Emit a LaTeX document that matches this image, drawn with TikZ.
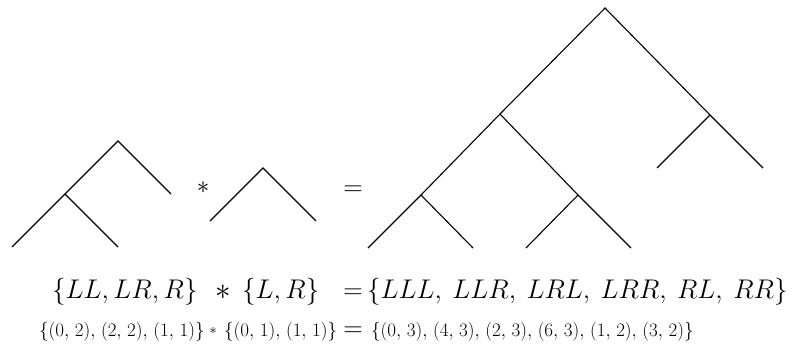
\RequirePackage{fix-cm}
\documentclass[tikz,border=0pt]{standalone}
\newcommand\cc{,\kern2.4pt}
\begin{document}
\begin{tikzpicture}[x=1pt,y=-1pt,
  edge/.style={line width=1.1pt},
  big/.style={inner sep=0pt, font=\fontsize{27}{32}\selectfont},
  bigast/.style={inner sep=0pt, font=\fontsize{31}{36}\selectfont},
  mid/.style={inner sep=0pt, font=\fontsize{25}{30}\selectfont},
  small/.style={inner sep=0pt, font=\fontsize{19}{23}\selectfont},
  tiny/.style={inner sep=0pt, font=\fontsize{15}{18}\selectfont}]
\useasboundingbox (0,0) rectangle (792,349);
% left tree
\coordinate (a) at (118,141);
\coordinate (aL) at (65,194);
\coordinate (aR) at (171,194);
\coordinate (aLL) at (12,247);
\coordinate (aLR) at (118,247);
\draw[edge] (aLL) -- (aL) -- (a) -- (aR);
\draw[edge] (aL) -- (aLR);
% middle tree
\coordinate (b) at (263,168);
\coordinate (bL) at (210,221);
\coordinate (bR) at (316,221);
\draw[edge] (bL) -- (b) -- (bR);
% right tree
\coordinate (c) at (605,8);
\coordinate (cL) at (500,114);
\coordinate (cR) at (710,115);
\coordinate (cLL) at (421,195);
\coordinate (cLR) at (578,195);
\coordinate (cLLL) at (368,248);
\coordinate (cLLR) at (473,248);
\coordinate (cLRL) at (526,248);
\coordinate (cLRR) at (631,248);
\coordinate (cRL) at (657,168);
\coordinate (cRR) at (763,168);
\draw[edge] (cLLL) -- (cLL) -- (cL) -- (c) -- (cR) -- (cRR);
\draw[edge] (cLL) -- (cLLR);
\draw[edge] (cL) -- (cLR) -- (cLRR);
\draw[edge] (cLR) -- (cLRL);
\draw[edge] (cR) -- (cRL);
% operators between trees
\node[mid, anchor=base] (ast) at (203,193) {$\ast$};
\node[big, anchor=base] (eq) at (353,195) {$=$};
% line 1
\node[big, anchor=base west] (l1a) at (52,298) {$\{LL,LR,R\}$};
\node[bigast, anchor=base] (l1b) at (223,299) {$\ast$};
\node[big, anchor=base west] (l1c) at (242,298) {$\{L,R\}$};
\node[big, anchor=base] (l1d) at (353,298) {$=$};
\node[big, anchor=base west] (l1e) at (367,298) {$\{LLL,\:LLR,\:LRL,\:LRR,\:RL,\:RR\}$};
% line 2
\node[small, anchor=base west] (l2a) at (39,336) {$\{(0\cc2)\cc(2\cc2)\cc(1\cc1)\}$};
\node[tiny, anchor=base] (l2b) at (213,334) {$\ast$};
\node[small, anchor=base west] (l2c) at (224,336) {$\{(0\cc1)\cc(1\cc1)\}$};
\node[big, anchor=base] (l2d) at (353,336) {$=$};
\node[small, anchor=base west] (l2e) at (371,336) {$\{(0\cc3)\cc(4\cc3)\cc(2\cc3)\cc(6\cc3)\cc(1\cc2)\cc(3\cc2)\}$};
\end{tikzpicture}
\end{document}
